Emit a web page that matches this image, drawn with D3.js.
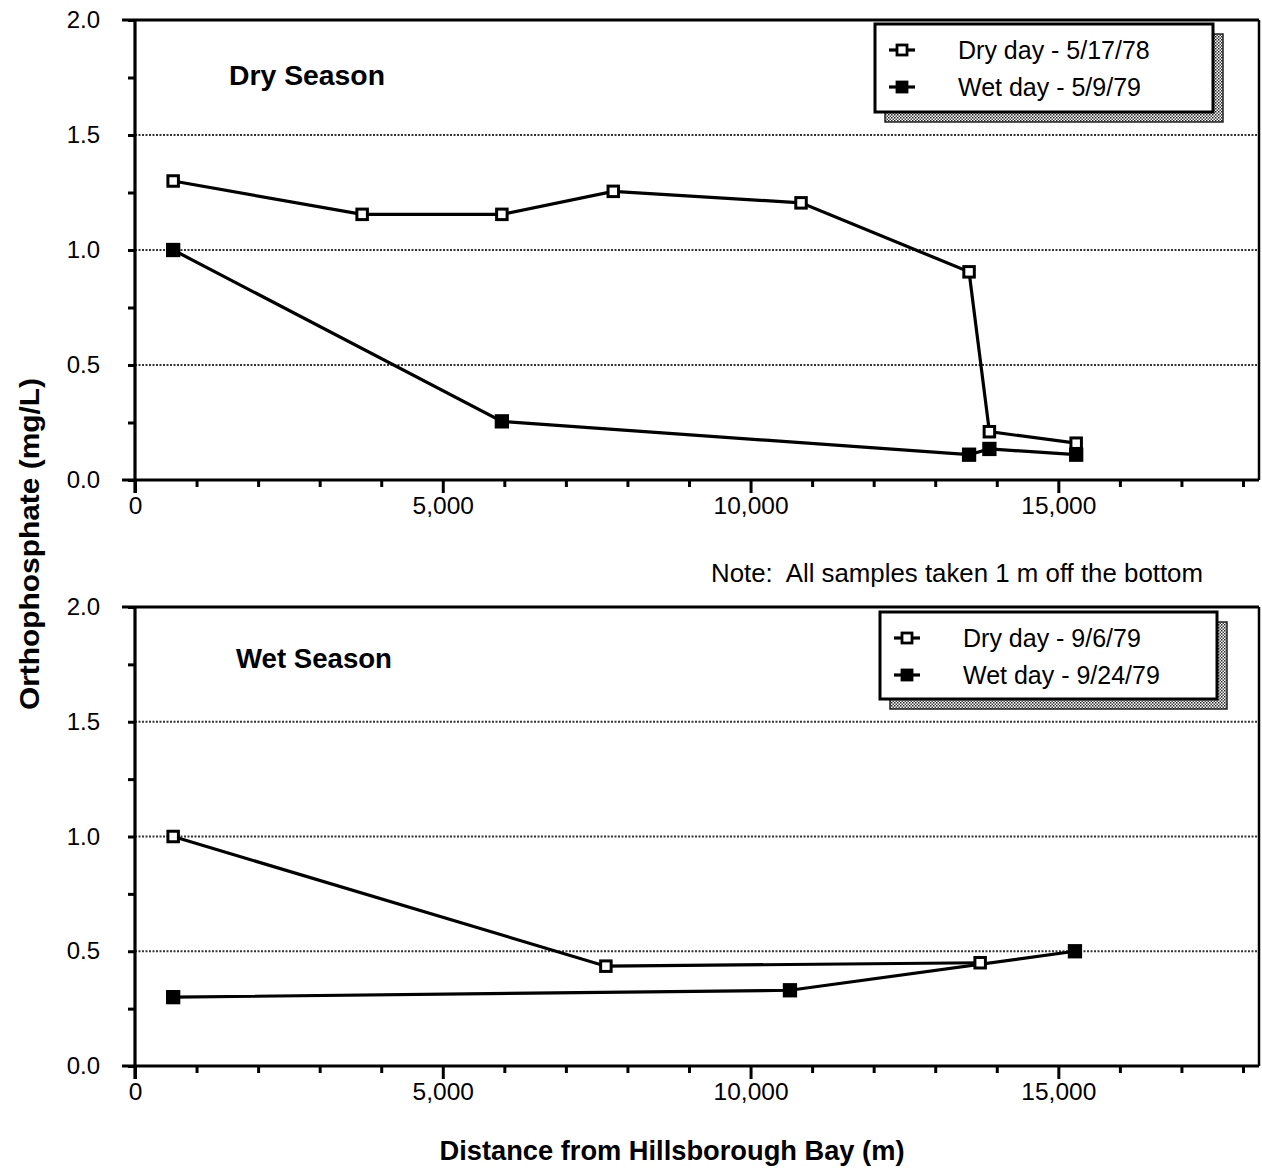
<!DOCTYPE html>
<html><head><meta charset="utf-8">
<script src="https://cdn.jsdelivr.net/npm/d3@7"></script>
<style>
html,body{margin:0;padding:0;background:#fff;}
svg{display:block;font-family:"Liberation Sans",Arial,Helvetica,sans-serif;}
</style></head>
<body>
<script>
// ---- data ----
const xTickValues = [0, 5000, 10000, 15000];
const yTickValues = [0, 0.5, 1.0, 1.5, 2.0];

const dryDistTop = [620, 3690, 5960, 7770, 10820, 13550, 13880, 15290];
const dryValTop  = [1.30, 1.155, 1.155, 1.255, 1.205, 0.905, 0.21, 0.16];
const wetDistTop = [620, 5960, 13550, 13880, 15290];
const wetValTop  = [1.0, 0.255, 0.11, 0.135, 0.11];

const dryDistBot = [620, 7650, 13730];
const dryValBot  = [1.0, 0.435, 0.45];
const wetDistBot = [620, 10640, 15270];
const wetValBot  = [0.30, 0.33, 0.50];

const panelTitles = ["Dry Season", "Wet Season"];
const legendTop = ["Dry day - 5/17/78", "Wet day - 5/9/79"];
const legendBot = ["Dry day - 9/6/79", "Wet day - 9/24/79"];

const W = 1262, H = 1170;
const svg = d3.select("body").append("svg").attr("width", W).attr("height", H);

const defs = svg.append("defs");
const pat = defs.append("pattern").attr("id","hatch").attr("patternUnits","userSpaceOnUse")
  .attr("width",3).attr("height",3);
pat.append("rect").attr("width",3).attr("height",3).attr("fill","#fff");
pat.append("rect").attr("x",0).attr("y",0).attr("width",1.5).attr("height",1.5).attr("fill","#222");
pat.append("rect").attr("x",1.5).attr("y",1.5).attr("width",1.5).attr("height",1.5).attr("fill","#444");

const x = d3.scaleLinear().domain([0, 18260]).range([135, 1259]);
const LW = 3.2;

function panel(top, bottom, title, titlePos, dryD, dryV, wetD, wetV, legText, leg) {
  const y = d3.scaleLinear().domain([0, 2]).range([bottom, top]);
  const g = svg.append("g");

  // gridlines
  g.selectAll(".grid").data([0.5, 1.0, 1.5]).enter().append("line")
    .attr("x1", x(0)).attr("x2", x.range()[1])
    .attr("y1", d => y(d)).attr("y2", d => y(d))
    .attr("stroke", "#333").attr("stroke-width", 2.2).attr("stroke-dasharray", "2,1.5");

  // frame top and right
  g.append("line").attr("x1", 122).attr("x2", x.range()[1]).attr("y1", y(2)).attr("y2", y(2))
    .attr("stroke", "#000").attr("stroke-width", 3);
  g.append("line").attr("x1", x.range()[1]).attr("x2", x.range()[1]).attr("y1", y(2)).attr("y2", y(0))
    .attr("stroke", "#000").attr("stroke-width", 2.5);

  // x axis
  const xAxis = d3.axisBottom(x).tickValues(d3.range(0, 18001, 1000))
    .tickSize(7).tickFormat("");
  const xa = g.append("g").attr("transform", `translate(0,${y(0)})`).call(xAxis);
  xa.select(".domain").remove();
  xa.selectAll(".tick line").attr("stroke-width", 3).attr("y2", d => d % 5000 === 0 ? 13 : 7);
  g.append("line").attr("x1", 122).attr("x2", x.range()[1]).attr("y1", y(0)).attr("y2", y(0))
    .attr("stroke", "#000").attr("stroke-width", 3);
  const xl = d3.axisBottom(x).tickValues(xTickValues).tickSize(0).tickPadding(17)
    .tickFormat(d3.format(","));
  const xla = g.append("g").attr("transform", `translate(0,${y(0)})`).call(xl);
  xla.select(".domain").remove();
  xla.selectAll("text").attr("font-size", 24.5).attr("fill", "#000")
    .attr("font-family", "Liberation Sans, Arial, sans-serif");

  // y axis
  const yAxis = d3.axisLeft(y).tickValues(d3.range(0, 2.001, 0.25)).tickSize(7).tickFormat("");
  const ya = g.append("g").attr("transform", `translate(${x(0)},0)`).call(yAxis);
  ya.select(".domain").remove();
  ya.selectAll(".tick line").attr("stroke-width", 3);
  g.append("line").attr("x1", x(0)).attr("x2", x(0)).attr("y1", y(2)).attr("y2", y(0) + 13)
    .attr("stroke", "#000").attr("stroke-width", 3.2);
  const yl = d3.axisLeft(y).tickValues(yTickValues).tickSize(0).tickPadding(35)
    .tickFormat(d3.format(".1f"));
  const yla = g.append("g").attr("transform", `translate(${x(0)},0)`).call(yl);
  yla.select(".domain").remove();
  yla.selectAll("text").attr("font-size", 24).attr("fill", "#000")
    .attr("font-family", "Liberation Sans, Arial, sans-serif");

  // title
  g.append("text").attr("x", titlePos[0]).attr("y", titlePos[1])
    .attr("font-size", 27).attr("font-weight", "bold")
    .attr("textLength", 156).attr("lengthAdjust", "spacingAndGlyphs").text(title);

  // lines
  const line = d3.line().x(d => x(d[0])).y(d => y(d[1]));
  const dry = dryD.map((d, i) => [d, dryV[i]]);
  const wet = wetD.map((d, i) => [d, wetV[i]]);
  g.append("path").datum(dry).attr("d", line).attr("fill", "none").attr("stroke", "#000").attr("stroke-width", LW);
  g.append("path").datum(wet).attr("d", line).attr("fill", "none").attr("stroke", "#000").attr("stroke-width", LW);
  const s = 10.5;
  g.selectAll(".wm").data(wet).enter().append("rect")
    .attr("x", d => x(d[0]) - s/2 - 0.5).attr("y", d => y(d[1]) - s/2 - 0.5)
    .attr("width", s + 1).attr("height", s + 1).attr("fill", "#000").attr("stroke", "#000").attr("stroke-width", 2.8);
  g.selectAll(".dm").data(dry).enter().append("rect")
    .attr("x", d => x(d[0]) - s/2).attr("y", d => y(d[1]) - s/2)
    .attr("width", s).attr("height", s).attr("fill", "#fff").attr("stroke", "#000").attr("stroke-width", 3);

  // legend
  const lg = g.append("g");
  lg.append("rect").attr("x", leg.x + 10).attr("y", leg.y + 10).attr("width", leg.w).attr("height", leg.h)
    .attr("fill", "url(#hatch)").attr("stroke", "#222").attr("stroke-width", 1.5);
  lg.append("rect").attr("x", leg.x).attr("y", leg.y).attr("width", leg.w).attr("height", leg.h)
    .attr("fill", "#fff").attr("stroke", "#000").attr("stroke-width", 3);
  legText.forEach((t, i) => {
    const cy = leg.y + 26 + i * 37;
    lg.append("line").attr("x1", leg.x + 14).attr("x2", leg.x + 40).attr("y1", cy).attr("y2", cy)
      .attr("stroke", "#000").attr("stroke-width", 3.2);
    lg.append("rect").attr("x", leg.x + 27 - 5).attr("y", cy - 5).attr("width", 10).attr("height", 10)
      .attr("fill", i === 0 ? "#fff" : "#000").attr("stroke", "#000").attr("stroke-width", 2.8);
    lg.append("text").attr("x", leg.x + 83).attr("y", cy + 9).attr("font-size", 25).text(t);
  });
}

panel(20, 480, panelTitles[0], [229, 85], dryDistTop, dryValTop, wetDistTop, wetValTop, legendTop,
  {x: 875, y: 24, w: 338, h: 88});
panel(607, 1066, panelTitles[1], [236, 668], dryDistBot, dryValBot, wetDistBot, wetValBot, legendBot,
  {x: 880, y: 612, w: 337, h: 87});

// note
svg.append("text").attr("x", 711).attr("y", 582).attr("font-size", 25)
  .attr("textLength", 492).attr("lengthAdjust", "spacingAndGlyphs")
  .style("white-space", "pre")
  .text("Note:  All samples taken 1 m off the bottom");

// axis titles
svg.append("text").attr("transform", "translate(39,544) rotate(-90)").attr("text-anchor", "middle")
  .attr("font-size", 27).attr("font-weight", "bold")
  .attr("textLength", 332).attr("lengthAdjust", "spacingAndGlyphs").text("Orthophosphate (mg/L)");
svg.append("text").attr("x", 672).attr("y", 1160).attr("text-anchor", "middle")
  .attr("font-size", 27).attr("font-weight", "bold")
  .attr("textLength", 465).attr("lengthAdjust", "spacingAndGlyphs").text("Distance from Hillsborough Bay (m)");
</script>
</body></html>
